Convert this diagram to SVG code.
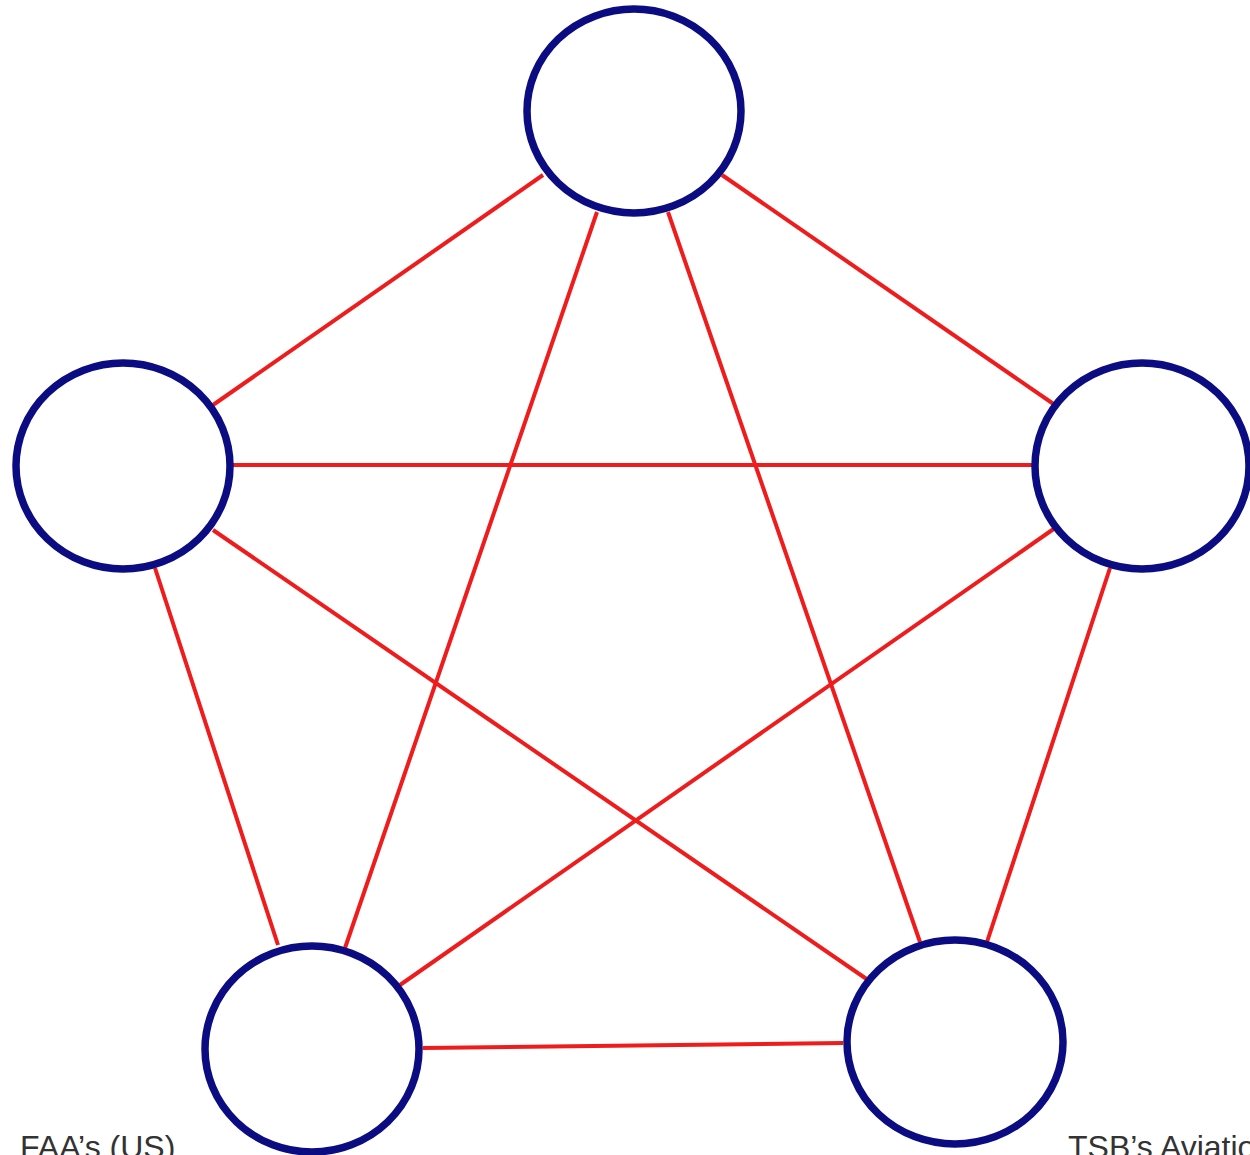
<svg xmlns="http://www.w3.org/2000/svg" width="1250" height="1155" viewBox="0 0 1250 1155">
<style>
.node{fill:#ffffff;stroke:#0c0c82;stroke-width:7.5}
.edge{stroke:#ee1c1c;stroke-width:4;fill:none}
.lbl{font-family:"Liberation Sans",Arial,sans-serif;font-size:32px;fill:#333333}
</style>
<rect width="1250" height="1155" fill="#ffffff"/>
<g id="connectors">
<line class="edge" x1="543" y1="175" x2="213" y2="405"/>
<line class="edge" x1="722" y1="175" x2="1055" y2="405"/>
<line class="edge" x1="597" y1="212" x2="345" y2="948"/>
<line class="edge" x1="668" y1="212" x2="920" y2="942"/>
<line class="edge" x1="233" y1="465" x2="1033" y2="465"/>
<line class="edge" x1="155" y1="568" x2="278" y2="945"/>
<line class="edge" x1="213" y1="530" x2="868" y2="980"/>
<line class="edge" x1="1055" y1="528" x2="400" y2="985"/>
<line class="edge" x1="1110" y1="568" x2="987" y2="942"/>
<line class="edge" x1="423" y1="1048" x2="843" y2="1043"/>
</g>
<g id="node-top"><ellipse class="node" cx="634" cy="111" rx="107" ry="102"/></g>
<g id="node-left"><ellipse class="node" cx="123" cy="466" rx="107" ry="103"/></g>
<g id="node-right"><ellipse class="node" cx="1142" cy="466" rx="107" ry="103"/></g>
<g id="node-bottom-left"><ellipse class="node" cx="312" cy="1049" rx="107" ry="103"/></g>
<g id="node-bottom-right"><ellipse class="node" cx="955" cy="1042" rx="108" ry="102"/></g>
<g id="labels">
<text class="lbl" x="20" y="1158">FAA’s (US)</text>
<text class="lbl" x="1068" y="1158">TSB’s Aviatio</text>
</g>
</svg>
